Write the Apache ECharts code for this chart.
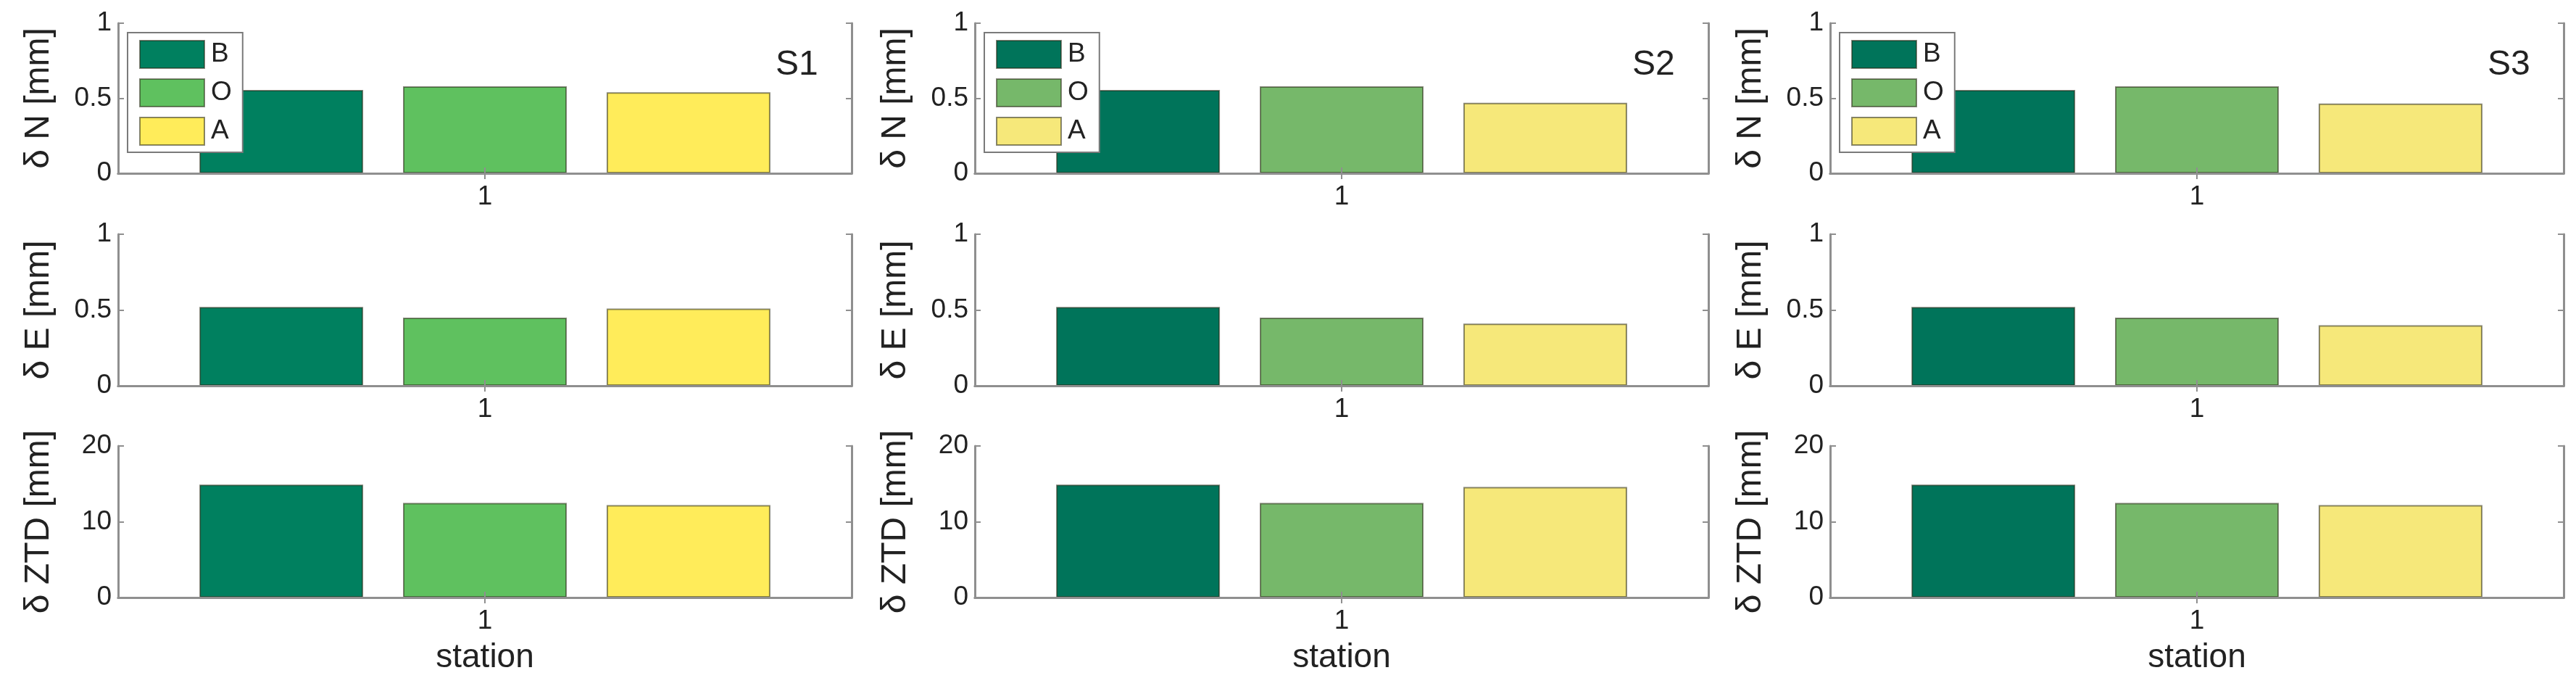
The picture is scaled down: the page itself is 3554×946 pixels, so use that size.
<!DOCTYPE html>
<html>
<head>
<meta charset="utf-8">
<script src="https://cdn.jsdelivr.net/npm/echarts@6/dist/echarts.min.js"></script>
<style>
html,body{margin:0;padding:0;background:#fff;}
#chart{width:3554px;height:946px;}
</style>
</head>
<body>
<div id="chart"></div>
<script>
// ---- data ----
var categories = ['1'];
var seriesNames = ['B', 'O', 'A'];
var panelTitles = ['S1', 'S2', 'S3'];
var rowLabels = ['δ N [mm]', 'δ E [mm]', 'δ ZTD [mm]'];
var rowMax = [1, 1, 20];
var rowInterval = [0.5, 0.5, 10];
// values per column (S1, S2, S3), each [B, O, A]
var valuesN = [[0.555, 0.58, 0.54], [0.555, 0.58, 0.47], [0.555, 0.58, 0.465]];
var valuesE = [[0.52, 0.45, 0.51], [0.52, 0.45, 0.41], [0.52, 0.45, 0.40]];
var valuesZTD = [[14.9, 12.5, 12.2], [14.9, 12.5, 14.6], [14.9, 12.5, 12.2]];
var xAxisName = 'station';

// ---- styling ----
var palettes = [
  ['#00805f', '#5fc15f', '#ffec5a'],
  ['#00745a', '#76b86a', '#f6e87a'],
  ['#00745a', '#76b86a', '#f6e87a']
];
var colLeft = [163, 1345, 2525];
var colWidth = 1012;
var rowTop = [32, 323, 615];
var rowHeight = [207, 209, 209];
var axisGray = '#8f8f8f';
var textColor = '#222';
var fontFam = 'Liberation Sans, Arial, sans-serif';
var rowValues = [valuesN, valuesE, valuesZTD];

var grid = [], xAxis = [], yAxis = [], series = [], legend = [], title = [];

for (var r = 0; r < 3; r++) {
  for (var c = 0; c < 3; c++) {
    var g = r * 3 + c;
    grid.push({left: colLeft[c], top: rowTop[r], width: colWidth, height: rowHeight[r], show: false});
    // bottom x axis
    xAxis.push({
      type: 'category', gridIndex: g, data: categories, position: 'bottom', z: 3,
      axisLine: {show: true, lineStyle: {color: axisGray, width: 3}},
      axisTick: {show: true, inside: true, alignWithLabel: true, length: 8, lineStyle: {color: axisGray, width: 2}},
      axisLabel: {show: true, margin: 14, fontSize: 37, color: textColor, fontFamily: fontFam},
      name: r === 2 ? xAxisName : '',
      nameLocation: 'middle', nameGap: 60,
      nameTextStyle: {fontSize: 46, color: textColor, fontFamily: fontFam}
    });
    // top x axis (box + tick)
    xAxis.push({
      type: 'category', gridIndex: g, data: categories, position: 'top', z: 3,
      axisLine: {show: true, lineStyle: {color: axisGray, width: 3}},
      axisTick: {show: true, inside: true, alignWithLabel: true, length: 8, lineStyle: {color: axisGray, width: 2}},
      axisLabel: {show: false}
    });
    // left y axis
    yAxis.push({
      type: 'value', gridIndex: g, min: 0, max: rowMax[r], interval: rowInterval[r], position: 'left', z: 3,
      axisLine: {show: true, lineStyle: {color: axisGray, width: 3}},
      axisTick: {show: true, inside: true, length: 8, lineStyle: {color: axisGray, width: 2}},
      axisLabel: {show: true, margin: 9, fontSize: 37, color: textColor, fontFamily: fontFam},
      splitLine: {show: false},
      name: rowLabels[r], nameLocation: 'middle', nameGap: 85, nameRotate: 90,
      nameTextStyle: {fontSize: 48, color: textColor, fontFamily: fontFam}
    });
    // right y axis (box + ticks)
    yAxis.push({
      type: 'value', gridIndex: g, min: 0, max: rowMax[r], interval: rowInterval[r], position: 'right', z: 3,
      axisLine: {show: true, lineStyle: {color: axisGray, width: 3}},
      axisTick: {show: true, inside: true, length: 8, lineStyle: {color: axisGray, width: 2}},
      axisLabel: {show: false},
      splitLine: {show: false}
    });
    var vals = rowValues[r][c];
    for (var s = 0; s < 3; s++) {
      series.push({
        type: 'bar', name: seriesNames[s],
        xAxisIndex: 2 * g, yAxisIndex: 2 * g,
        data: [vals[s]],
        barWidth: 226, barGap: '24.3%',
        itemStyle: {color: palettes[c][s], borderColor: 'rgba(40,40,20,0.55)', borderWidth: 2},
        silent: true, animation: false
      });
    }
    if (r === 0) {
      legend.push({
        orient: 'vertical', left: colLeft[c] + 13, top: 45,
        selectedMode: false,
        icon: 'rect', itemWidth: 89, itemHeight: 38, itemGap: 13,
        padding: [10, 15, 9, 16],
        backgroundColor: '#fff', borderColor: '#7a7a7a', borderWidth: 2,
        textStyle: {fontSize: 37, color: textColor, fontFamily: fontFam, padding: [0, 0, 0, 4]},
        data: seriesNames.map(function (n, i) {
          return {name: n, itemStyle: {color: palettes[c][i], borderColor: 'rgba(40,40,20,0.55)', borderWidth: 2}};
        })
      });
      title.push({
        text: panelTitles[c], left: colLeft[c] + colWidth - 110, top: 61,
        textStyle: {fontSize: 48, fontWeight: 'normal', color: textColor, fontFamily: fontFam}
      });
    }
  }
}

var chart = echarts.init(document.getElementById('chart'), null, {renderer: 'canvas'});
chart.setOption({
  animation: false,
  backgroundColor: '#fff',
  title: title,
  legend: legend,
  grid: grid,
  xAxis: xAxis,
  yAxis: yAxis,
  series: series
});
</script>
</body>
</html>
